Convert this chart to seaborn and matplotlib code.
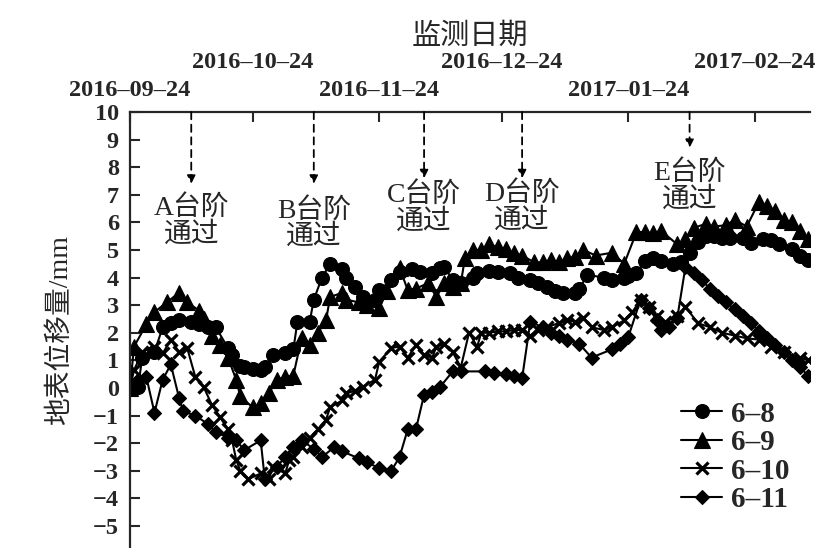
import pandas as pd
import numpy as np
import matplotlib
matplotlib.use("Agg")
import matplotlib.pyplot as plt
import seaborn as sns

# monitoring start date; x values below are days after it
start = pd.Timestamp("2016-09-24")

# 6-8
days_68 = [0, 2, 3, 6, 8, 10, 12, 15, 17, 19,
           21, 24, 25, 27, 28, 30, 32, 33, 35, 38,
           40, 41, 44, 45, 47, 49, 52, 53, 55, 57,
           60, 61, 64, 66, 69, 71, 74, 76, 77, 79,
           81, 84, 85, 88, 90, 93, 95, 98, 100, 102,
           104, 106, 109, 110, 112, 116, 118, 121, 122, 124,
           126, 128, 130, 133, 135, 137, 139, 141, 143, 145,
           147, 150, 152, 155, 157, 159, 162, 164, 166]
vals_68 = [0, 0.05, 1.1, 1.3, 2.2, 2.35, 2.45, 2.4, 2.3, 2.2,
           2.2, 1.45, 1.2, 0.8, 0.75, 0.7, 0.65, 0.75, 1.2, 1.25,
           1.4, 2.4, 2.4, 3.2, 4.0, 4.5, 4.3, 4.0, 3.65, 3.3,
           3.2, 3.55, 3.9, 4.2, 4.3, 4.2, 4.15, 4.35, 4.4, 3.9,
           3.8, 4.0, 4.15, 4.25, 4.2, 4.15, 4.0, 3.9, 3.8, 3.65,
           3.5, 3.45, 3.45, 3.6, 4.1, 4.0, 3.9, 4.0, 4.05, 4.15,
           4.6, 4.7, 4.6, 4.5, 4.55, 4.9, 5.3, 5.5, 5.5, 5.45,
           5.45, 5.45, 5.25, 5.4, 5.35, 5.2, 5.05, 4.8, 4.65]

# 6-9
days_69 = [0, 1, 4, 6, 9, 12, 14, 17, 18, 20,
           22, 24, 26, 27, 30, 32, 34, 36, 38, 40,
           42, 44, 46, 48, 49, 52, 53, 56, 58, 61,
           63, 66, 68, 70, 73, 75, 77, 79, 81, 82,
           84, 86, 88, 90, 92, 94, 96, 99, 101, 103,
           105, 107, 109, 111, 114, 118, 121, 124, 126, 128,
           130, 134, 136, 138, 141, 143, 146, 148, 151, 154,
           156, 158, 160, 162, 164, 166]
vals_69 = [0, 1.5, 2.3, 2.75, 3.1, 3.45, 3.1, 2.8, 2.5, 1.9,
           1.55, 1.1, 0.3, -0.3, -0.7, -0.55, -0.2, 0.3, 0.4, 0.45,
           1.8, 1.55, 2.0, 2.45, 3.3, 3.45, 3.2, 3.1, 3.0, 2.9,
           3.5, 4.35, 3.55, 3.6, 3.8, 3.3, 3.8, 3.65, 3.8, 4.7,
           5.0, 5.0, 5.2, 5.1, 5.05, 4.9, 4.8, 4.55, 4.55, 4.65,
           4.55, 4.7, 4.75, 5.0, 4.8, 4.9, 4.5, 5.65, 5.65, 5.6,
           5.7, 5.2, 5.4, 5.8, 5.95, 5.85, 5.9, 6.1, 5.85, 6.75,
           6.6, 6.4, 6.1, 6.0, 5.7, 5.4]

# 6-10
days_610 = [0, 1, 3, 6, 8, 10, 12, 14, 16, 18,
            20, 22, 24, 25, 26, 27, 29, 32, 34, 35,
            38, 39, 40, 42, 44, 46, 48, 49, 52, 53,
            55, 57, 60, 61, 64, 66, 68, 70, 72, 74,
            75, 77, 79, 81, 83, 85, 86, 88, 90, 92,
            94, 96, 98, 100, 102, 105, 107, 109, 111, 113,
            116, 118, 121, 123, 125, 127, 129, 131, 134, 136,
            139, 142, 145, 148, 151, 154, 157, 160, 164, 166]
vals_610 = [0, 0.65, 1.3, 1.5, 1.25, 1.75, 1.3, 1.45, 0.4, 0.05,
            -0.6, -1.05, -1.5, -1.9, -2.6, -3.0, -3.3, -3.1, -3.3, -2.85,
            -3.1, -2.6, -2.5, -2.15, -1.8, -1.5, -1.15, -0.7, -0.45, -0.2,
            -0.1, 0.05, 0.3, 0.95, 1.45, 1.5, 1.1, 1.55, 1.2, 1.1,
            1.5, 1.6, 1.3, 0.75, 2.0, 1.5, 2.0, 2.0, 2.05, 2.05,
            2.1, 2.1, 1.9, 2.1, 2.2, 2.35, 2.45, 2.4, 2.55, 2.2,
            2.1, 2.2, 2.45, 2.75, 3.2, 2.95, 2.6, 2.4, 2.6, 2.95,
            2.35, 2.2, 2.0, 1.9, 1.8, 1.75, 1.5, 1.3, 1.1, 1.0]

# 6-11
days_611 = [0, 2, 4, 6, 8, 10, 12, 13, 16, 19,
            21, 24, 26, 28, 32, 33, 36, 38, 40, 42,
            45, 47, 50, 52, 56, 58, 61, 64, 66,
            68, 70, 72, 74, 76, 79, 81, 87, 89, 92,
            94, 96, 98, 101, 103, 105, 107, 110, 113,
            118, 120, 122, 125, 127, 129, 130, 132, 134, 136,
            138, 140, 142, 144, 146, 148, 150, 152, 154, 156,
            158, 160, 162, 164, 166]
vals_611 = [0, 0.3, 0.4, -0.9, 0.3, 0.85, -0.35, -0.85, -1.0, -1.3,
            -1.6, -1.8, -1.9, -2.25, -1.9, -3.3, -2.85, -2.5, -2.15, -1.9,
            -2.2, -2.5, -2.15, -2.3, -2.55, -2.7, -2.9, -3.0, -2.5,
            -1.5, -1.5, -0.25, -0.15, 0.05, 0.6, 0.6, 0.6, 0.55, 0.5,
            0.45, 0.35, 2.4, 2.2, 2.0, 1.9, 1.75, 1.6, 1.1,
            1.4, 1.6, 1.85, 3.2, 2.9, 2.45, 2.1, 2.2, 2.55, 4.4,
            4.15, 3.9, 3.6, 3.35, 3.1, 2.85, 2.6, 2.35, 2.05, 1.8,
            1.55, 1.3, 1.0, 0.75, 0.45]

series = [
    ("6–8", days_68, vals_68, "o"),
    ("6–9", days_69, vals_69, "^"),
    ("6–10", days_610, vals_610, "x"),
    ("6–11", days_611, vals_611, "D"),
]

# excavation steps passing the section
events = ["A台阶\n通过", "B台阶\n通过", "C台阶\n通过", "D台阶\n通过", "E台阶\n通过"]
event_dates = ["2016-10-09", "2016-11-08", "2016-12-05", "2016-12-29", "2017-02-08"]
arrow_end = [7.4, 7.4, 7.6, 7.6, 8.7]
text_y = [6.05, 5.95, 6.5, 6.55, 7.3]

major_dates = ["2016-09-24", "2016-11-24", "2017-01-24"]
minor_dates = ["2016-10-24", "2016-12-24", "2017-02-24"]

sns.set_style("ticks")
plt.rcParams["font.family"] = ["Liberation Serif", "Noto Sans CJK SC"]
plt.rcParams["axes.unicode_minus"] = True

fig = plt.figure(figsize=(8.3, 5.48), dpi=100)
ax = fig.add_axes([0.1566, 0.0, 0.976 - 0.1566, 0.7956])

sizes = {"o": 10, "^": 11, "x": 8.5, "D": 7.5}
for name, d, v, m in series:
    df = pd.DataFrame({"date": start + pd.to_timedelta(d, unit="D"), "val": v})
    sns.lineplot(data=df, x="date", y="val", ax=ax, color="k", lw=1.5,
                 marker=m, markersize=sizes[m], mec="k", mfc="k",
                 mew=2.3 if m == "x" else 0.8, label=name)

for txt, dt, ye, ty in zip(events, event_dates, arrow_end, text_y):
    x = pd.Timestamp(dt)
    ax.annotate("", xy=(x, ye), xytext=(x, 10),
                arrowprops=dict(arrowstyle="-|>", ls=(0, (4, 3)), lw=1.3,
                                color="k", mutation_scale=12, shrinkA=0, shrinkB=0))
    ax.text(x, ty, txt, ha="center", va="center", fontsize=20, linespacing=1.05)

ax.set_xlim(start, start + pd.Timedelta(days=166.5))
ax.set_ylim(-5.8, 10)
ax.set_yticks(range(-5, 11))

ax.xaxis.tick_top()
ax.xaxis.set_label_position("top")
ax.set_xticks(pd.to_datetime(major_dates))
ax.set_xticklabels([s.replace("-", "–") for s in major_dates])
ax.set_xticks(pd.to_datetime(minor_dates), minor=True)
ax.set_xticklabels([s.replace("-", "–") for s in minor_dates], minor=True)

ax.tick_params(axis="x", which="major", direction="in", length=7, width=1.5,
               pad=8, labelsize=17.5, top=True, bottom=False)
ax.tick_params(axis="x", which="minor", direction="in", length=7, width=1.5,
               pad=28, labelsize=17.5, top=True, bottom=False)
ax.tick_params(axis="y", direction="in", length=7, width=1.5, pad=8,
               labelsize=17.5, right=False)
for lab in ax.get_xticklabels(which="both") + ax.get_yticklabels():
    lab.set_fontweight("bold")

for s in ["right", "bottom"]:
    ax.spines[s].set_visible(False)
for s in ["left", "top"]:
    ax.spines[s].set_linewidth(1.6)

ax.set_xlabel("监测日期", fontsize=21, labelpad=6)
ax.set_ylabel("地表位移量/mm", fontsize=20, labelpad=14)

leg = ax.legend(loc="lower right", bbox_to_anchor=(0.995, 0.04), frameon=False,
                prop={"size": 21, "weight": "bold"}, handlelength=1.4,
                handletextpad=0.3, labelspacing=0.05, borderaxespad=0.2)

fig.savefig("out.png", dpi=100)
